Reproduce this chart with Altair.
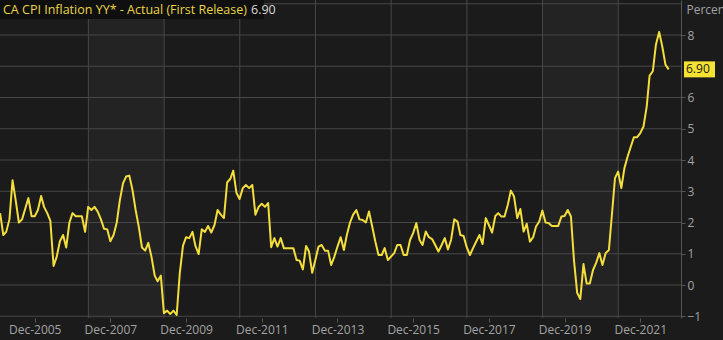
import altair as alt
import pandas as pd

# CA CPI inflation y/y, monthly from Jan-2005 to Sep-2022
v2005 = [2.3, 1.6, 1.7, 2.1, 3.35, 2.7, 2.0, 2.1, 2.45, 2.78, 2.2, 2.2]
v2006 = [2.4, 2.85, 2.5, 2.3, 2.05, 0.61, 0.9, 1.4, 1.6, 1.2, 2.0, 2.3]
v2007 = [2.2, 2.2, 2.2, 1.7, 2.5, 2.4, 2.5, 2.35, 2.1, 1.8, 1.78, 1.4]
v2008 = [1.6, 2.0, 2.7, 3.25, 3.47, 3.5, 3.05, 2.4, 1.85, 1.2, 1.1, 1.35]
v2009 = [0.9, 0.3, 0.12, 0.3, -0.9, -0.82, -0.93, -0.82, -0.96, 0.38, 1.26, 1.53]
v2010 = [1.5, 1.7, 1.25, 0.99, 1.78, 1.7, 1.89, 1.68, 1.92, 2.4, 2.25, 2.14]
v2011 = [3.28, 3.4, 3.66, 2.95, 2.75, 3.1, 3.2, 3.1, 3.2, 2.25, 2.5, 2.6]
v2012 = [2.5, 2.62, 1.21, 1.5, 1.23, 1.5, 1.18, 1.18, 1.18, 1.18, 0.8, 0.78]
v2013 = [0.5, 1.25, 1.07, 0.39, 0.8, 1.23, 1.28, 1.1, 1.1, 0.64, 0.91, 1.23]
v2014 = [1.53, 1.12, 1.6, 2.0, 2.25, 2.4, 2.1, 2.08, 2.0, 2.35, 1.87, 1.39]
v2015 = [0.96, 0.96, 1.18, 0.8, 0.91, 1.02, 1.28, 1.28, 0.96, 0.96, 1.44, 1.66]
v2016 = [1.98, 1.44, 1.28, 1.71, 1.53, 1.47, 1.28, 1.07, 1.28, 1.5, 1.14, 1.44]
v2017 = [2.1, 2.03, 1.6, 1.57, 1.21, 0.96, 1.18, 1.39, 1.6, 1.31, 2.14, 1.92]
v2018 = [1.68, 2.21, 2.3, 2.19, 2.19, 2.56, 3.02, 2.83, 2.14, 2.43, 1.71, 1.96]
v2019 = [1.39, 1.53, 1.87, 2.03, 2.38, 2.0, 1.98, 1.89, 1.89, 1.89, 2.19, 2.21]
v2020 = [2.4, 2.19, 0.8, -0.25, -0.45, 0.67, 0.05, 0.05, 0.48, 0.71, 1.02, 0.64]
v2021 = [1.02, 1.12, 2.2, 3.42, 3.63, 3.1, 3.74, 4.11, 4.43, 4.73, 4.73, 4.86]
v2022 = [5.07, 5.71, 6.7, 6.84, 7.69, 8.1, 7.64, 7.05, 6.9]

first_month = "2005-01-01"
tick_years = [2005, 2007, 2009, 2011, 2013, 2015, 2017, 2019, 2021]
grid_years = [2007, 2009, 2011, 2013, 2015, 2017, 2019, 2021]
band_start_years = [2007, 2019]
y_ticks = [-1, 0, 1, 2, 3, 4, 5, 6, 8]
y_grid = [-1, 0, 1, 2, 3, 4, 5, 6, 7, 8, 9]

title_text = "CA CPI Inflation YY* - Actual (First Release)"

values = (v2005 + v2006 + v2007 + v2008 + v2009 + v2010 + v2011 + v2012 + v2013
          + v2014 + v2015 + v2016 + v2017 + v2018 + v2019 + v2020 + v2021 + v2022)
dates = pd.date_range(first_month, periods=len(values), freq="MS").strftime("%Y-%m-%d")
df = pd.DataFrame({"date": list(dates), "value": values})
last = df.tail(1).assign(label=lambda d: d["value"].map(lambda v: f"{v:.2f}"))

grid_df = pd.DataFrame({"date": [f"{y}-05-03" for y in grid_years]})
hgrid_df = pd.DataFrame({"level": y_grid})
band_df = pd.DataFrame({"start": [f"{y}-05-03" for y in band_start_years],
                        "end": [f"{y + 2}-05-03" for y in band_start_years]})

BG = "#1b1b1b"
BAND = "#232323"
GRID = "#474747"
TXT = "#a3a3a3"
YEL = "#f3de3c"
FONT = "Open Sans"

x_scale = alt.Scale(type="utc",
                    domain=[alt.DateTime(year=2004, month=12, date=31, utc=True),
                            alt.DateTime(year=2022, month=12, date=29, utc=True)])
y_scale = alt.Scale(domain=[-1.056, 9.12], nice=False, zero=False)

x_axis = alt.Axis(
    values=[alt.DateTime(year=y, month=12, date=1, utc=True) for y in tick_years],
    labelExpr="utcFormat(datum.value, '%b-%Y')",
    grid=False, domain=False, ticks=True, tickColor="#555555", tickSize=4,
    labelColor=TXT, labelFont=FONT, labelFontSize=12, labelPadding=2, title=None,
    labelOverlap=False,
)
y_axis = alt.Axis(
    orient="right", values=y_ticks, labelOverlap=False,
    grid=False,
    domain=True, domainColor="#555555", ticks=True, tickColor="#555555", tickSize=4,
    labelColor=TXT, labelFont=FONT, labelFontSize=12, labelPadding=2, labelAlign="left",
    labelBaseline="middle",
    title="Percent", titleAngle=0, titleX=5, titleY=9, titleAlign="left",
    titleBaseline="middle", titleColor=TXT, titleFont=FONT, titleFontSize=12,
    titleFontWeight="normal",
)

bands = alt.Chart(band_df).mark_rect(color=BAND).encode(
    x=alt.X("start:T", scale=x_scale, axis=x_axis),
    x2="end:T",
)
vgrid = alt.Chart(grid_df).mark_rule(color=GRID, strokeWidth=1).encode(
    x=alt.X("date:T", scale=x_scale),
)
hgrid = alt.Chart(hgrid_df).mark_rule(color=GRID, strokeWidth=1).encode(
    y=alt.Y("level:Q", scale=y_scale, axis=y_axis),
)
line = alt.Chart(df).mark_line(color=YEL, strokeWidth=2, clip=True,
                               strokeJoin="round").encode(
    x=alt.X("date:T", scale=x_scale, axis=x_axis),
    y=alt.Y("value:Q", scale=y_scale, axis=y_axis),
)
tag_box = alt.Chart(last).mark_rect(color="#f6e233", yOffset=-8, y2Offset=8).encode(
    x=alt.value(684), x2=alt.value(715),
    y=alt.Y("value:Q", scale=y_scale, axis=y_axis), y2="value:Q",
)
tag_text = alt.Chart(last).mark_text(align="left", baseline="middle", color="#1a1a1a",
                                     font=FONT, fontSize=12).encode(
    x=alt.value(686), y=alt.Y("value:Q", scale=y_scale, axis=y_axis), text="label:N",
)
head_box = alt.Chart(last).mark_rect(color="#0f0f0f").encode(
    x=alt.value(0), x2=alt.value(264), y=alt.value(0), y2=alt.value(19),
)
head_text = alt.Chart(pd.DataFrame({"t": [title_text]})).mark_text(
    align="left", baseline="middle", color="#e9d547", font=FONT, fontSize=12.5,
).encode(x=alt.value(3), y=alt.value(10), text="t:N")
head_val = alt.Chart(last).mark_text(
    align="left", baseline="middle", color="#d8d8d8", font=FONT, fontSize=12.5,
).encode(x=alt.value(251), y=alt.value(10), text="label:N")

chart = alt.layer(bands, vgrid, hgrid, line, tag_box, tag_text, head_box, head_text,
                  head_val).properties(
    width=681, height=318,
    padding={"left": 0, "top": 0, "right": 42, "bottom": 22},
    autosize=alt.AutoSizeParams(type="none"),
    background=BG,
).configure_view(fill=BG, stroke=None)

chart.save("out.html", embed_options={"renderer": "svg", "actions": False})
